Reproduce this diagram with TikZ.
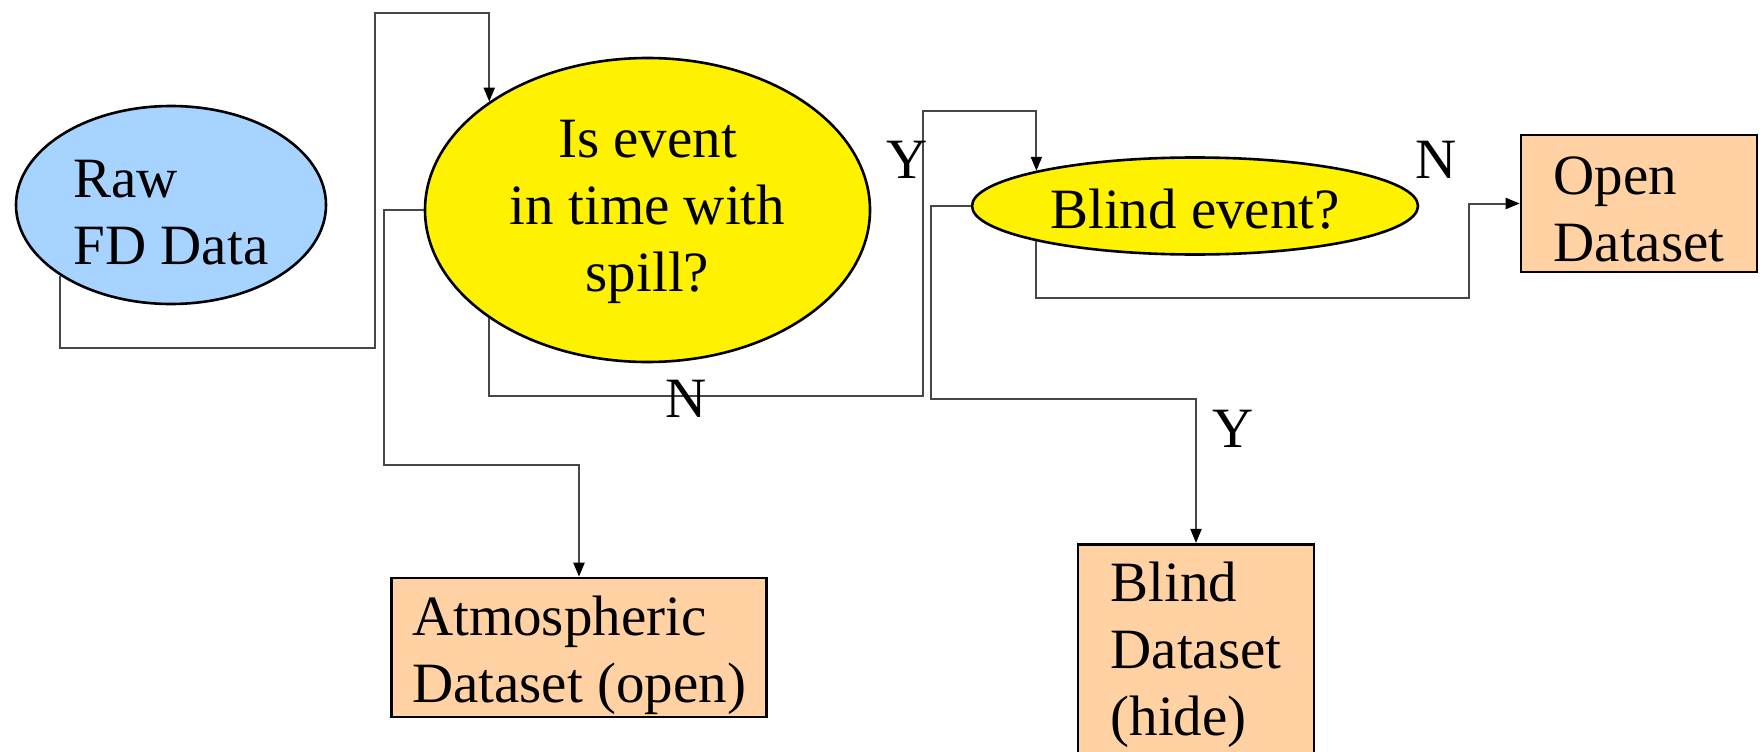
\documentclass[tikz,border=0pt]{standalone}
\usepackage{fontspec}
\setmainfont{Liberation Serif}
\usetikzlibrary{shapes.geometric,arrows.meta}
\definecolor{rawblue}{HTML}{A6D3FF}
\definecolor{peach}{HTML}{FFD1A3}
\begin{document}
\begin{tikzpicture}[x=1pt,y=-1pt,
  every node/.style={font=\fontsize{57}{67}\selectfont},
  ell/.style={ellipse, draw=black, line width=2.6pt, inner sep=0pt},
  dbox/.style={rectangle, draw=black, line width=2.6pt, fill=peach, inner sep=0pt},
  txt/.style={inner sep=0pt},
  conn/.style={draw=black!72, line width=2pt},
  arr/.style={conn, -{Triangle[length=14pt,width=11pt,color=black]}},
  lbl/.style={inner sep=0pt}]
\useasboundingbox (0,0) rectangle (1764,752);

% decision and source shapes
\node[ell, fill=rawblue, minimum width=310pt, minimum height=198pt] (raw) at (171,205) {};
\node[ell, fill=yellow, minimum width=445pt, minimum height=304pt] (q1) at (647.5,210) {};
\node[ell, fill=yellow, minimum width=446pt, minimum height=97pt] (blind) at (1195,206) {};

% output datasets
\node[dbox, minimum width=236pt, minimum height=137pt] (open) at (1639,203.5) {};
\node[dbox, minimum width=375.5pt, minimum height=139pt] (atm) at (579,647.5) {};
\node[dbox, minimum width=236pt, minimum height=215.5pt] (bds) at (1196,652) {};

% texts inside the shapes
\node[txt, align=left, yshift=-8pt] (rawt) at (raw.center) {Raw\\FD Data};
\node[txt, align=center, yshift=-2pt] (q1t) at (q1.center) {Is event\\in time with\\spill?};
\node[txt, yshift=-3pt] (blindt) at (blind.center) {Blind event?};
\node[txt, align=left, yshift=-6pt] (opent) at (open.center) {Open\\Dataset};
\node[txt, align=left, yshift=-8pt] (atmt) at (atm.center) {Atmospheric\\Dataset (open)};
\node[txt, align=left, yshift=-3pt] (bdst) at (bds.center) {Blind\\Dataset\\(hide)};

% connectors
\draw[arr] (raw.south west) |- (375,348) -- (375,13.5) -| (q1.north west);
\draw[arr] (q1.west) -| (384,465) -| (atm.north);
\draw[arr] (q1.south west) |- (922.5,396) -- (922.5,111) -| (blind.north west);
\draw[arr] (blind.west) -| (931,399) -| (bds.north);
\draw[arr] (blind.south west) |- (1469,298) |- (open.west);

% branch labels
\node[lbl] (y1) at (907,160) {Y};
\node[lbl] (n1) at (686,399) {N};
\node[lbl] (n2) at (1436,160) {N};
\node[lbl] (y2) at (1233,429) {Y};
\end{tikzpicture}
\end{document}
